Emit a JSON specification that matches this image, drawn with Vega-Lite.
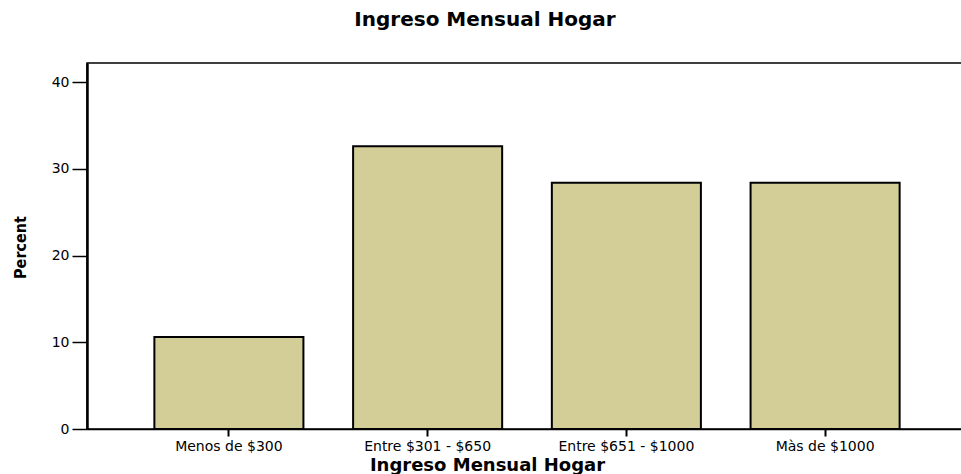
{
  "$schema": "https://vega.github.io/schema/vega-lite/v6.json",
  "autosize": "none",
  "width": 880,
  "height": 366,
  "padding": {"left": 87, "top": 63, "right": 0, "bottom": 45},
  "background": "white",
  "config": {
    "view": {"stroke": "black", "strokeWidth": 1.5},
    "font": "DejaVu Sans"
  },
  "title": {
    "text": "Ingreso Mensual Hogar",
    "font": "DejaVu Sans",
    "fontWeight": "bold",
    "fontSize": 20,
    "color": "black",
    "anchor": "middle",
    "baseline": "middle",
    "offset": 23,
    "dx": -42
  },
  "data": {
    "values": [
      {"ingreso": "Menos de $300", "percent": 10.6},
      {"ingreso": "Entre $301 - $650", "percent": 32.6},
      {"ingreso": "Entre $651 - $1000", "percent": 28.4},
      {"ingreso": "Màs de $1000", "percent": 28.4}
    ]
  },
  "mark": {"type": "bar", "fill": "#d3cd97", "stroke": "black", "strokeWidth": 2},
  "encoding": {
    "x": {
      "field": "ingreso",
      "type": "nominal",
      "sort": null,
      "scale": {"paddingInner": 0.25, "paddingOuter": 0.339},
      "axis": {
        "title": "Ingreso Mensual Hogar",
        "titleFont": "DejaVu Sans",
        "titleFontWeight": "bold",
        "titleFontSize": 18,
        "titleColor": "black",
        "titleX": 400,
        "titleY": 36,
        "titleBaseline": "middle",
        "titleAnchor": "middle",
        "labelAngle": 0,
        "labelFont": "DejaVu Sans",
        "labelFontSize": 14,
        "labelColor": "black",
        "labelPadding": 3,
        "tickSize": 7,
        "tickWidth": 2,
        "tickColor": "black",
        "domainColor": "black",
        "domainWidth": 1.5,
        "grid": false
      }
    },
    "y": {
      "field": "percent",
      "type": "quantitative",
      "scale": {"domain": [0, 42.2], "nice": false},
      "axis": {
        "title": "Percent",
        "titleFont": "DejaVu Sans Condensed",
        "titleFontWeight": "bold",
        "titleFontSize": 16,
        "titleColor": "black",
        "titleAngle": -90,
        "titleX": -67,
        "titleY": 184,
        "titleAlign": "center",
        "titleBaseline": "middle",
        "values": [0, 10, 20, 30, 40],
        "labelFont": "DejaVu Sans",
        "labelFontSize": 14,
        "labelColor": "black",
        "labelPadding": 3,
        "tickSize": 15,
        "tickWidth": 1.5,
        "tickColor": "black",
        "domainColor": "black",
        "domainWidth": 2.5,
        "grid": false
      }
    }
  }
}
